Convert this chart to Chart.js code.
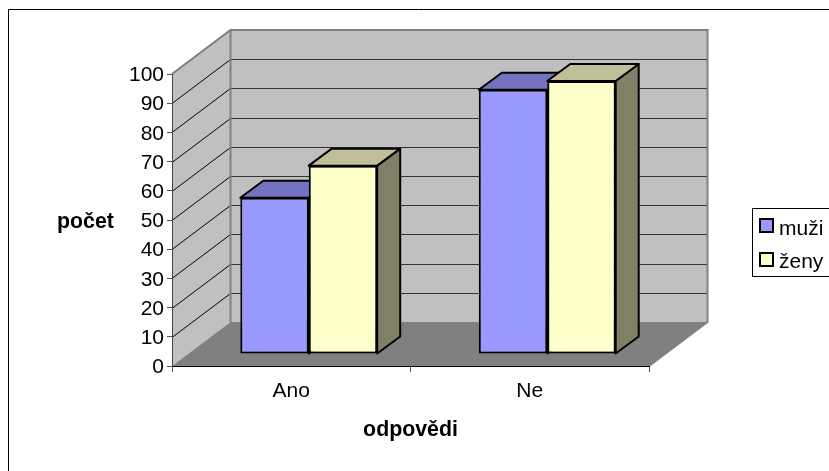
<!DOCTYPE html>
<html lang="cs">
<head>
  <meta charset="UTF-8">
  <title>počet odpovědí</title>
  <style>
    body { margin: 0; background: #fff; }
    canvas { display: block; }
  </style>
</head>
<body>
  <canvas id="chart" width="829" height="471"></canvas>
  <script src="https://cdn.jsdelivr.net/npm/chart.js"></script>
  <script>
    const categories = ['Ano', 'Ne'];
    const seriesNames = ['muži', 'ženy'];
    const muzi = [53.5, 90.5];
    const zeny = [64.5, 93.5];
    const yTicks = [0, 10, 20, 30, 40, 50, 60, 70, 80, 90, 100];
    const xTitle = 'odpovědi';
    const yTitle = 'počet';

    const FONT = '"Liberation Sans", Arial, sans-serif';
    // fake 3D: depth of the box and of one bar, shift of the bars off the front plane
    const wall = { dx: 58.5, dy: -44 };
    const barDepth = { dx: 23, dy: -17 };
    const barShift = { x: 17.5, y: -12 };

    function poly(ctx, pts, fill) {
      ctx.beginPath();
      pts.forEach((p, i) => i ? ctx.lineTo(p[0], p[1]) : ctx.moveTo(p[0], p[1]));
      ctx.closePath();
      if (fill) { ctx.fillStyle = fill; ctx.fill(); }
    }

    const box3d = {
      id: 'box3d',
      beforeDraw(chart) {
        const ctx = chart.ctx;
        const { left, right } = chart.chartArea;
        const y = chart.scales.y;
        const top = y.getPixelForValue(100), bot = y.getPixelForValue(0);
        const { dx, dy } = wall;

        // outer frame, only top and left are inside the picture
        ctx.save();
        ctx.strokeStyle = '#000';
        ctx.lineWidth = 1;
        ctx.beginPath();
        ctx.moveTo(8.5, 471); ctx.lineTo(8.5, 9.5); ctx.lineTo(829, 9.5);
        ctx.stroke();

        // walls and floor
        poly(ctx, [[left + dx, top + dy], [right + dx, top + dy], [right + dx, bot + dy], [left + dx, bot + dy]], '#c0c0c0');
        poly(ctx, [[left, top], [left + dx, top + dy], [left + dx, bot + dy], [left, bot]], '#c0c0c0');
        poly(ctx, [[left, bot], [right, bot], [right + dx, bot + dy], [left + dx, bot + dy]], '#808080');

        // grid on the walls
        yTicks.slice(1, -1).forEach(v => {
          const py = Math.round(y.getPixelForValue(v)) + 0.5;
          ctx.lineWidth = 1;
          ctx.strokeStyle = '#000';
          ctx.beginPath();
          ctx.moveTo(left, py); ctx.lineTo(left + dx, py + dy);
          ctx.stroke();
          ctx.strokeStyle = '#333';
          ctx.beginPath();
          ctx.moveTo(left + dx, py + dy); ctx.lineTo(right + dx, py + dy);
          ctx.stroke();
        });

        // wall edges
        ctx.strokeStyle = '#808080';
        ctx.lineWidth = 2;
        ctx.beginPath();
        ctx.moveTo(left, top); ctx.lineTo(left + dx, top + dy); ctx.lineTo(right + dx, top + dy);
        ctx.lineTo(right + dx, bot + dy); ctx.lineTo(right, bot);
        ctx.moveTo(left + dx, top + dy); ctx.lineTo(left + dx, bot + dy);
        ctx.stroke();

        // legend, the frame runs off the right edge of the picture
        ctx.strokeStyle = '#000';
        ctx.lineWidth = 1;
        ctx.beginPath();
        ctx.moveTo(829, 208.5); ctx.lineTo(752.5, 208.5); ctx.lineTo(752.5, 276.5); ctx.lineTo(829, 276.5);
        ctx.stroke();
        ctx.font = '21px ' + FONT;
        ctx.textAlign = 'left';
        ctx.textBaseline = 'alphabetic';
        chart.data.datasets.forEach((ds, i) => {
          const sy = 219 + i * 34;
          ctx.fillStyle = ds.backgroundColor;
          ctx.lineWidth = 2;
          ctx.fillRect(760, sy, 13, 13);
          ctx.strokeRect(760, sy, 13, 13);
          ctx.fillStyle = '#000';
          ctx.fillText(ds.label, 779, 235 + i * 33);
        });

        // axis titles
        ctx.fillStyle = '#000';
        ctx.font = 'bold 21.33px ' + FONT;
        ctx.textAlign = 'center';
        ctx.fillText(yTitle, 85.5, 228);
        ctx.fillText(xTitle, 410.5, 436);
        ctx.restore();
      },
      beforeDatasetsDraw(chart) {
        const ctx = chart.ctx;
        ctx.save();
        ctx.translate(barShift.x, barShift.y);
        // side and top of each bar, the front comes from the bar element
        chart.data.datasets.forEach((ds, i) => {
          chart.getDatasetMeta(i).data.forEach(bar => {
            const l = bar.x - bar.width / 2, r = bar.x + bar.width / 2;
            const { dx, dy } = barDepth;
            ctx.strokeStyle = '#000';
            ctx.lineWidth = 2;
            ctx.lineJoin = 'round';
            poly(ctx, [[r, bar.y], [r + dx, bar.y + dy], [r + dx, bar.base + dy], [r, bar.base]], ds.sideColor);
            ctx.stroke();
            poly(ctx, [[l, bar.y], [l + dx, bar.y + dy], [r + dx, bar.y + dy], [r, bar.y]], ds.topColor);
            ctx.stroke();
          });
        });
      },
      afterDatasetsDraw(chart) {
        chart.ctx.restore();
      }
    };

    new Chart(document.getElementById('chart'), {
      type: 'bar',
      data: {
        labels: categories,
        datasets: [
          { label: seriesNames[0], data: muzi, backgroundColor: '#9999ff', topColor: '#7373bf', sideColor: '#4d4d80', borderColor: '#000', borderWidth: 2, borderSkipped: false },
          { label: seriesNames[1], data: zeny, backgroundColor: '#ffffcc', topColor: '#bfbf99', sideColor: '#808066', borderColor: '#000', borderWidth: 2, borderSkipped: false }
        ]
      },
      options: {
        responsive: false,
        animation: false,
        events: [],
        categoryPercentage: 0.574,
        barPercentage: 1,
        clip: false,
        layout: { padding: { left: 0, top: 74, right: 180, bottom: 0 } },
        scales: {
          x: {
            afterFit: s => { s.height = 105; },
            grid: { drawOnChartArea: false, tickLength: 6, color: '#555' },
            border: { color: '#000', width: 1 },
            ticks: { color: '#000', font: { family: FONT, size: 21 }, padding: 7 }
          },
          y: {
            min: 0,
            max: 100,
            afterFit: s => { s.width = 172; },
            afterBuildTicks: s => { s.ticks = yTicks.map(v => ({ value: v })); },
            grid: { drawOnChartArea: false, tickLength: 5, color: '#555' },
            border: { color: '#444', width: 1 },
            ticks: { color: '#000', font: { family: FONT, size: 21 }, padding: 3, labelOffset: 1.5 }
          }
        },
        plugins: {
          title: { display: false },
          tooltip: { enabled: false },
          legend: { display: false }
        }
      },
      plugins: [box3d]
    });
  </script>
</body>
</html>
